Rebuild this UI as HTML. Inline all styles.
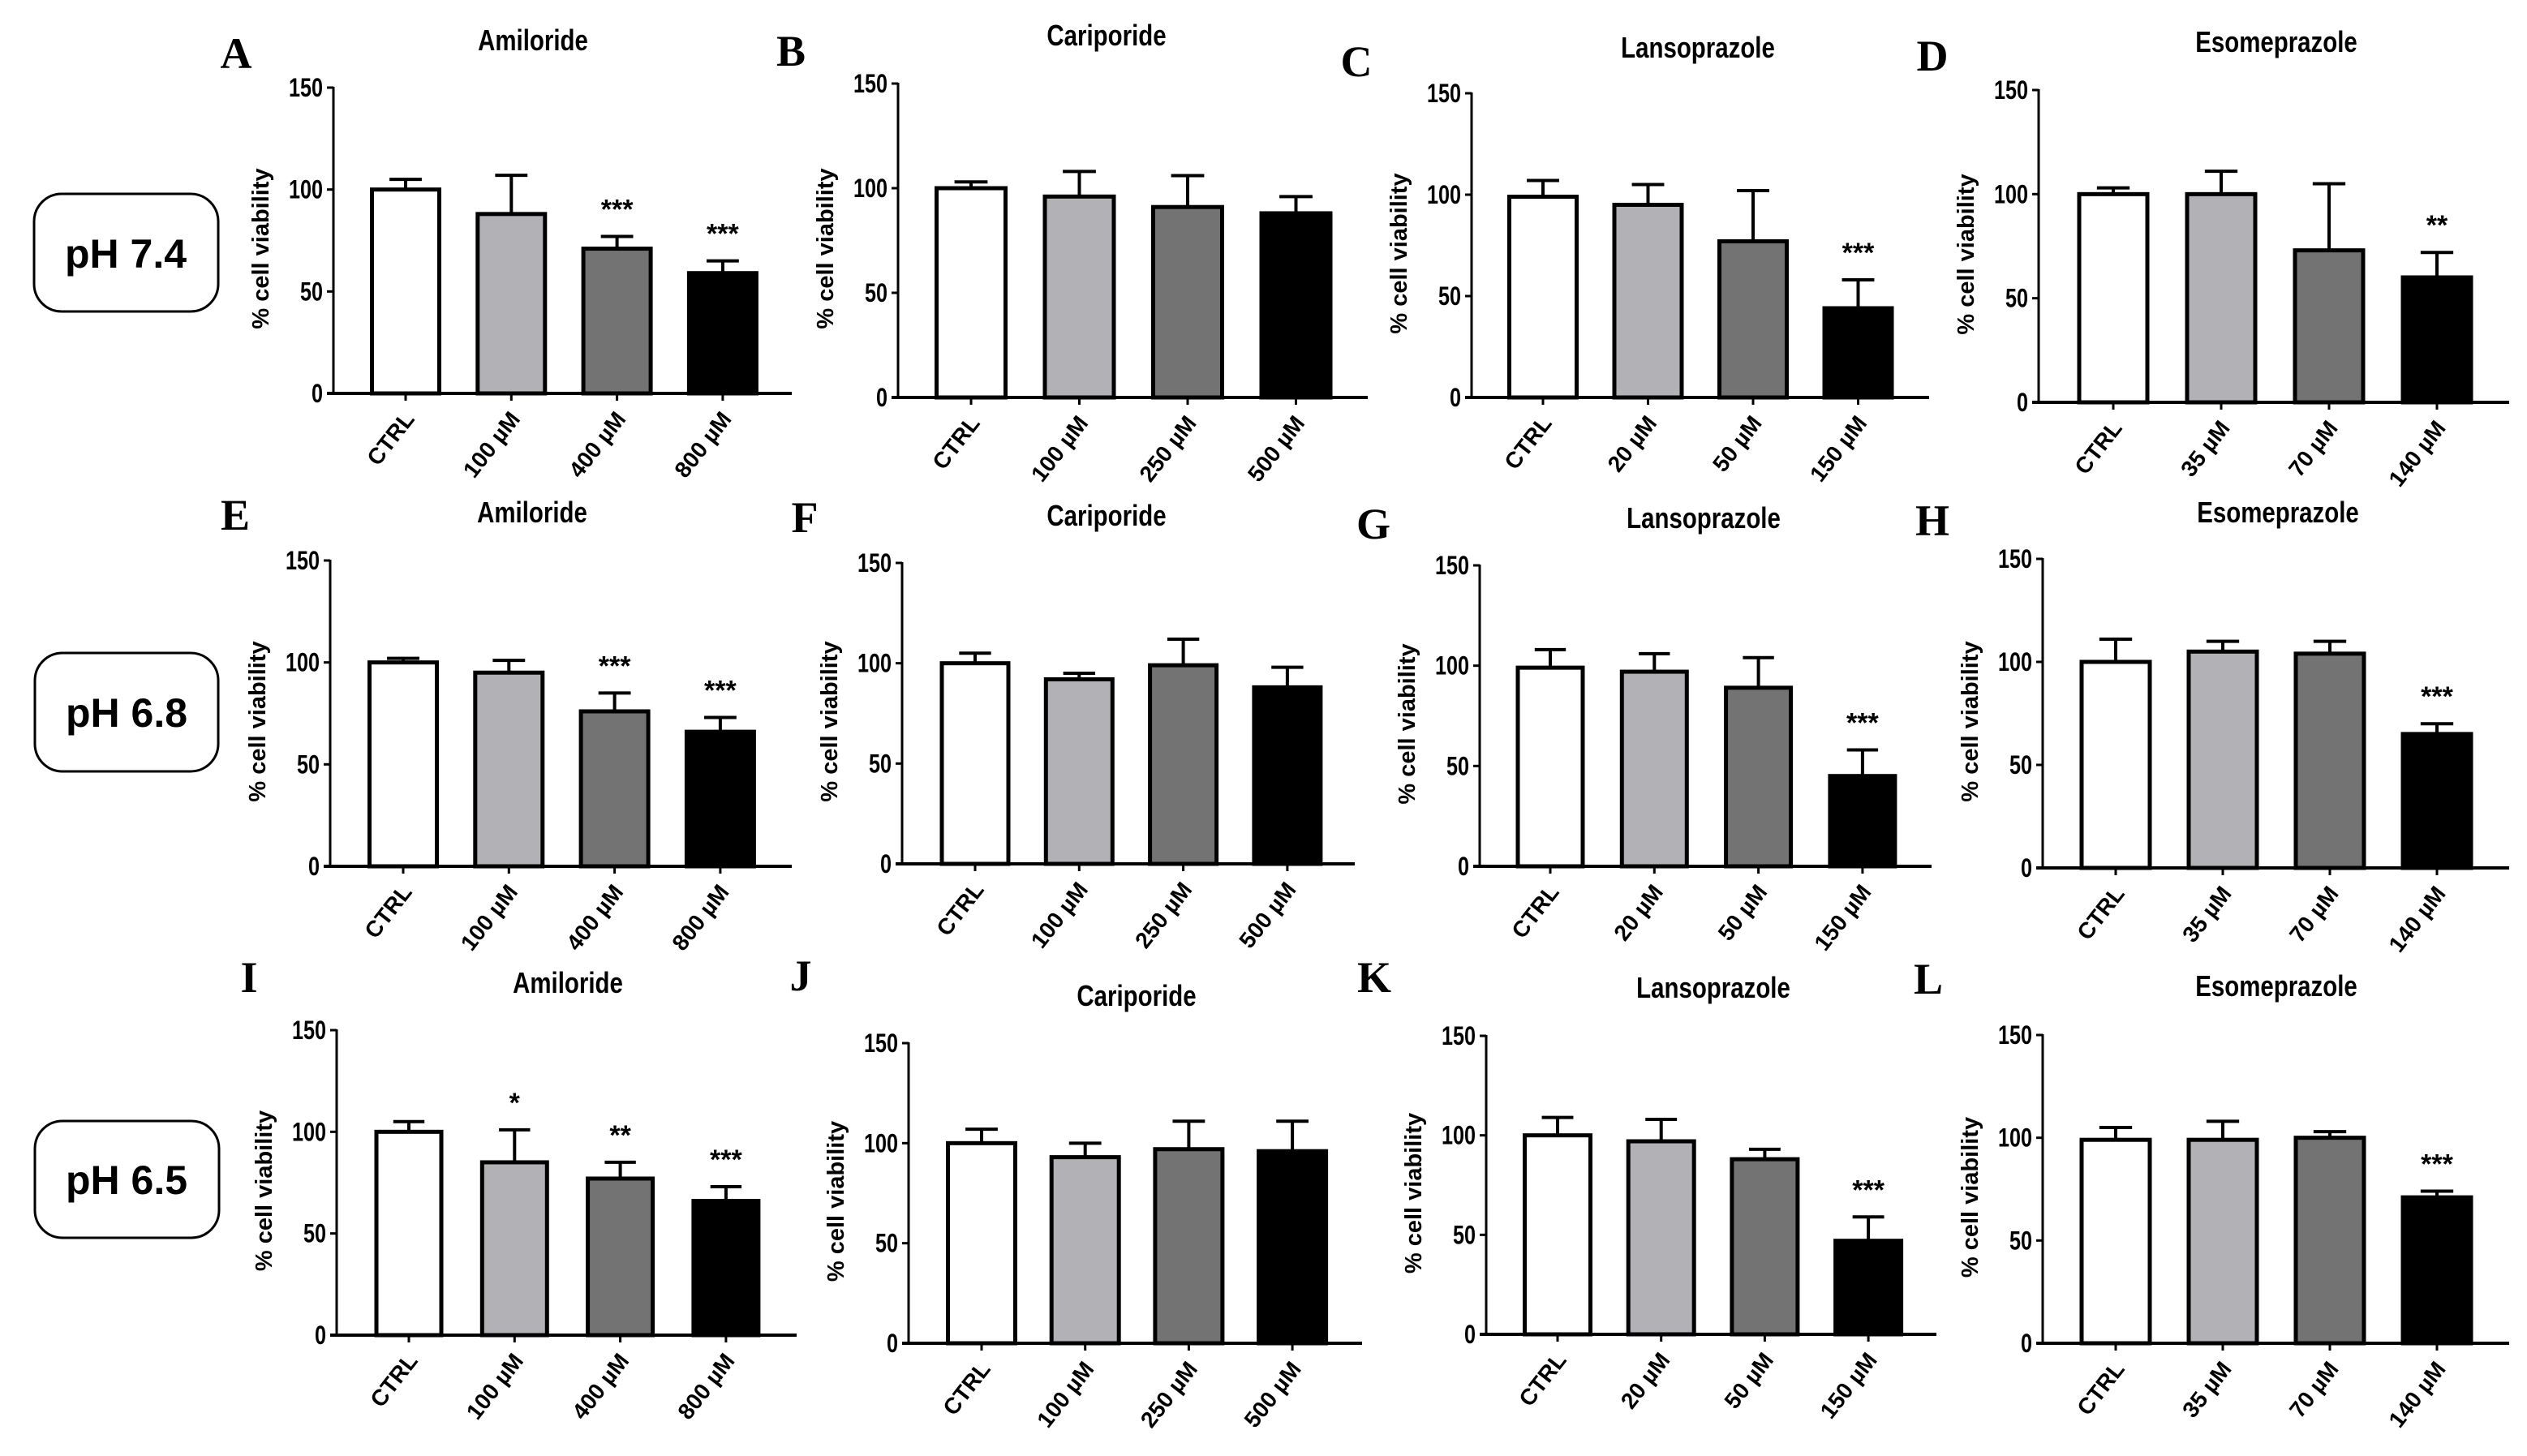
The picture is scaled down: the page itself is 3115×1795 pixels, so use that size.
<!DOCTYPE html>
<html><head><meta charset="utf-8"><style>
html,body{margin:0;padding:0;background:#fff;}
svg{display:block;}
text{font-family:"Liberation Sans",Arial,sans-serif;font-weight:bold;fill:#000;}
.serif{font-family:"Liberation Serif","Times New Roman",serif;}
</style></head><body>
<svg id="fig" width="3115" height="1795" viewBox="0 0 3115 1795" xmlns="http://www.w3.org/2000/svg">
<g><rect x="42" y="239" width="227" height="145" rx="34" fill="#fff" stroke="#000" stroke-width="3"/><text x="155" y="330" font-size="50" text-anchor="middle">pH 7.4</text></g>
<g><rect x="43" y="805" width="226" height="146" rx="34" fill="#fff" stroke="#000" stroke-width="3"/><text x="156" y="896" font-size="50" text-anchor="middle">pH 6.8</text></g>
<g><rect x="43" y="1382" width="227" height="144" rx="34" fill="#fff" stroke="#000" stroke-width="3"/><text x="156" y="1472" font-size="50" text-anchor="middle">pH 6.5</text></g>
</svg>
<script>
// ---- data ----
const yTicks = [0, 50, 100, 150];
const catsAmiloride = ["CTRL", "100 µM", "400 µM", "800 µM"];
const catsCariporide = ["CTRL", "100 µM", "250 µM", "500 µM"];
const catsLansoprazole = ["CTRL", "20 µM", "50 µM", "150 µM"];
const catsEsomeprazole = ["CTRL", "35 µM", "70 µM", "140 µM"];

const meanA = [100, 88, 71, 59];   const errA = [105, 107, 77, 65];   const sigA = ["", "", "***", "***"];
const meanB = [100, 96, 91, 88];   const errB = [103, 108, 106, 96];  const sigB = ["", "", "", ""];
const meanC = [99, 95, 77, 44];    const errC = [107, 105, 102, 58];  const sigC = ["", "", "", "***"];
const meanD = [100, 100, 73, 60];  const errD = [103, 111, 105, 72];  const sigD = ["", "", "", "**"];
const meanE = [100, 95, 76, 66];   const errE = [102, 101, 85, 73];   const sigE = ["", "", "***", "***"];
const meanF = [100, 92, 99, 88];   const errF = [105, 95, 112, 98];   const sigF = ["", "", "", ""];
const meanG = [99, 97, 89, 45];    const errG = [108, 106, 104, 58];  const sigG = ["", "", "", "***"];
const meanH = [100, 105, 104, 65]; const errH = [111, 110, 110, 70];  const sigH = ["", "", "", "***"];
const meanI = [100, 85, 77, 66];   const errI = [105, 101, 85, 73];   const sigI = ["", "*", "**", "***"];
const meanJ = [100, 93, 97, 96];   const errJ = [107, 100, 111, 111]; const sigJ = ["", "", "", ""];
const meanK = [100, 97, 88, 47];   const errK = [109, 108, 93, 59];   const sigK = ["", "", "", "***"];
const meanL = [99, 99, 100, 71];   const errL = [105, 108, 103, 74];  const sigL = ["", "", "", "***"];

const barFills = ["#ffffff", "#b2b2b6", "#737373", "#000000"];

// ---- layout ----
const panels = [
 {id:"A",title:"Amiloride",cats:catsAmiloride,mean:meanA,err:errA,sig:sigA,ax:411,top:108,bot:485,end:976,c0:500,step:130.3,bw:83,tx:657,ty:50,lx:291,ly:65},
 {id:"B",title:"Cariporide",cats:catsCariporide,mean:meanB,err:errB,sig:sigB,ax:1107,top:103,bot:490,end:1686,c0:1197,step:133.5,bw:85,tx:1364,ty:44,lx:975,ly:62},
 {id:"C",title:"Lansoprazole",cats:catsLansoprazole,mean:meanC,err:errC,sig:sigC,ax:1814,top:115,bot:490,end:2378,c0:1902,step:129.5,bw:83,tx:2093,ty:59,lx:1672,ly:75},
 {id:"D",title:"Esomeprazole",cats:catsEsomeprazole,mean:meanD,err:errD,sig:sigD,ax:2513,top:111,bot:496,end:3093,c0:2605,step:133,bw:84,tx:2806,ty:52,lx:2382,ly:68},
 {id:"E",title:"Amiloride",cats:catsAmiloride,mean:meanE,err:errE,sig:sigE,ax:407,top:691,bot:1068,end:976,c0:497,step:130.3,bw:83,tx:656,ty:632,lx:290,ly:634},
 {id:"F",title:"Cariporide",cats:catsCariporide,mean:meanF,err:errF,sig:sigF,ax:1112,top:694,bot:1065,end:1670,c0:1202,step:128.3,bw:82,tx:1364,ty:636,lx:992,ly:637},
 {id:"G",title:"Lansoprazole",cats:catsLansoprazole,mean:meanG,err:errG,sig:sigG,ax:1824,top:697,bot:1068,end:2381,c0:1911,step:128.3,bw:80,tx:2100,ty:639,lx:1693,ly:645},
 {id:"H",title:"Esomeprazole",cats:catsEsomeprazole,mean:meanH,err:errH,sig:sigH,ax:2518,top:689,bot:1070,end:3093,c0:2608,step:132,bw:84,tx:2808,ty:632,lx:2382,ly:641},
 {id:"I",title:"Amiloride",cats:catsAmiloride,mean:meanI,err:errI,sig:sigI,ax:415,top:1270,bot:1646,end:982,c0:504,step:130.3,bw:80,tx:700,ty:1212,lx:307,ly:1204},
 {id:"J",title:"Cariporide",cats:catsCariporide,mean:meanJ,err:errJ,sig:sigJ,ax:1120,top:1286,bot:1656,end:1679,c0:1210,step:127.7,bw:83,tx:1401,ty:1228,lx:987,ly:1202},
 {id:"K",title:"Lansoprazole",cats:catsLansoprazole,mean:meanK,err:errK,sig:sigK,ax:1832,top:1277,bot:1645,end:2387,c0:1920,step:127.7,bw:81,tx:2112,ty:1218,lx:1694,ly:1204},
 {id:"L",title:"Esomeprazole",cats:catsEsomeprazole,mean:meanL,err:errL,sig:sigL,ax:2518,top:1276,bot:1656,end:3093,c0:2608,step:132,bw:84,tx:2806,ty:1216,lx:2377,ly:1206}
];

const NS = "http://www.w3.org/2000/svg";
const svg = document.getElementById("fig");
function mk(tag, attrs, parent, txt){
  const e = document.createElementNS(NS, tag);
  for (const k in attrs) e.setAttribute(k, attrs[k]);
  if (txt !== undefined) e.textContent = txt;
  parent.appendChild(e);
  return e;
}

panels.forEach(p => {
  const yS = v => p.bot - (v / 150) * (p.bot - p.top);
  const xS = i => p.c0 + i * p.step;
  const g = mk("g", {}, svg);
  
  

  const letter = mk("text", {x:p.lx, y:p.ly + 19, "font-size":54, "text-anchor":"middle", class:"serif"}, g, p.id);
  
  

  const title = mk("text", {x:0, y:0, "font-size":32, "text-anchor":"middle",
    transform:`translate(${p.tx},${p.ty + 12}) scale(0.92,1.12)`}, g, p.title);
  
  

  const yl = mk("text", {x:0, y:0, "font-size":29, "text-anchor":"middle",
    transform:`translate(${p.ax - 80},${(p.top + p.bot) / 2 + 10}) rotate(-90)`}, g, "% cell viability");
  
  

  p.mean.forEach((v, i) => {
    const cx = xS(i);
    const eb = mk("line", {x1:cx, x2:cx, y1:yS(v), y2:yS(p.err[i]), stroke:"#000", "stroke-width":4}, g);
    
    
    const cap = mk("line", {x1:cx - p.bw * 0.24, x2:cx + p.bw * 0.24, y1:yS(p.err[i]), y2:yS(p.err[i]), stroke:"#000", "stroke-width":4}, g);
    
    
    const r = mk("rect", {x:cx - p.bw / 2, y:yS(v), width:p.bw, height:yS(0) - yS(v), fill:barFills[i], stroke:"#000", "stroke-width":5}, g);
    
    
    if (p.sig[i]) {
      const s = mk("text", {x:cx, y:yS(p.err[i]) - 22, "font-size":34, "text-anchor":"middle"}, g, p.sig[i]);
      
      
    }
    const tk = mk("line", {x1:cx, x2:cx, y1:p.bot, y2:p.bot + 9, stroke:"#000", "stroke-width":3}, g);
    
    
    const xl = mk("text", {x:0, y:0, "font-size":28, "text-anchor":"end",
      transform:`translate(${cx + 12},${p.bot + 32}) rotate(-52)`}, g, p.cats[i]);
    
    
  });

  const ya = mk("line", {x1:p.ax, x2:p.ax, y1:p.top - 1, y2:p.bot + 1, stroke:"#000", "stroke-width":3}, g);
  
  
  const xa = mk("line", {x1:p.ax - 8, x2:p.end, y1:p.bot, y2:p.bot, stroke:"#000", "stroke-width":4}, g);
  
  
  yTicks.forEach(t => {
    const tl = mk("line", {x1:p.ax - 8, x2:p.ax, y1:yS(t), y2:yS(t), stroke:"#000", "stroke-width":3}, g);
    
    
    const tt = mk("text", {x:0, y:0, "font-size":28, "text-anchor":"end",
      transform:`translate(${p.ax - 13},${yS(t) + 11}) scale(0.9,1.15)`}, g, String(t));
    
    
  });
});
</script>
</body></html>
